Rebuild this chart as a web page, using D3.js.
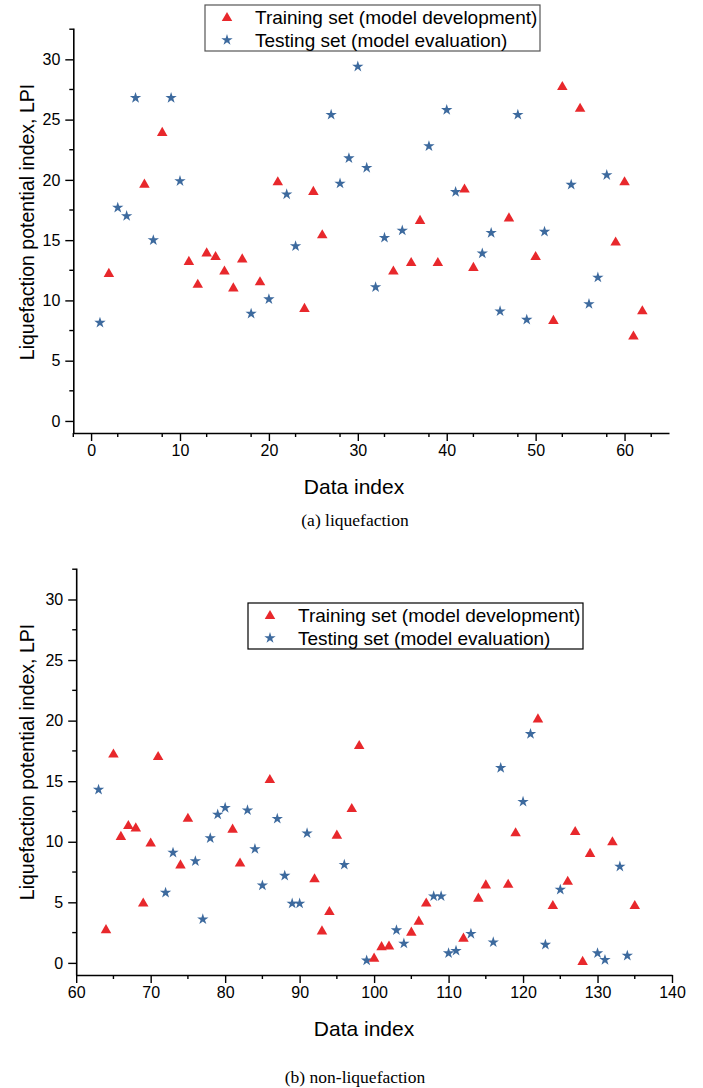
<!DOCTYPE html>
<html>
<head>
<meta charset="utf-8">
<script src="https://cdn.jsdelivr.net/npm/d3@7"></script>
<style>
  body { margin: 0; background: #fff; }
  svg { display: block; }
  .tick text { font-family: "Liberation Sans", Arial, sans-serif; }
</style>
</head>
<body>
<script>
// (a) liquefaction: data index and LPI
var liqTrainIdx = [2, 6, 8, 11, 12, 13, 14, 15, 16, 17, 19, 21, 24, 25, 26, 34, 36, 37, 39, 42, 43, 47, 50, 52, 53, 55, 59, 60, 61, 62];
var liqTrainLpi = [12.2, 19.6, 23.9, 13.2, 11.3, 13.9, 13.6, 12.4, 11.0, 13.4, 11.5, 19.8, 9.3, 19.0, 15.4, 12.4, 13.1, 16.6, 13.1, 19.2, 12.7, 16.8, 13.6, 8.3, 27.7, 25.9, 14.8, 19.8, 7.0, 9.1];
var liqTestIdx = [1, 3, 4, 5, 7, 9, 10, 18, 20, 22, 23, 27, 28, 29, 30, 31, 32, 33, 35, 38, 40, 41, 44, 45, 46, 48, 49, 51, 54, 56, 57, 58];
var liqTestLpi = [8.15, 17.7, 17.0, 26.8, 15.0, 26.8, 19.9, 8.9, 10.1, 18.8, 14.5, 25.4, 19.7, 21.8, 29.4, 21.0, 11.1, 15.2, 15.8, 22.8, 25.8, 19.0, 13.9, 15.6, 9.1, 25.4, 8.4, 15.7, 19.6, 9.7, 11.9, 20.4];

// (b) non-liquefaction
var nonTrainIdx = [64, 65, 66, 67, 68, 69, 70, 71, 74, 75, 81, 82, 86, 92, 93, 94, 95, 97, 98, 100, 101, 102, 105, 106, 107, 112, 114, 115, 118, 119, 122, 124, 126, 127, 128, 129, 132, 135];
var nonTrainLpi = [2.7, 17.2, 10.4, 11.3, 11.1, 4.9, 9.85, 17.0, 8.05, 11.9, 11.0, 8.2, 15.1, 6.9, 2.6, 4.2, 10.5, 12.7, 17.9, 0.35, 1.3, 1.35, 2.5, 3.4, 4.9, 2.0, 5.3, 6.4, 6.45, 10.7, 20.1, 4.7, 6.7, 10.8, 0.08, 9.0, 9.96, 4.7];
var nonTestIdx = [63, 72, 73, 76, 77, 78, 79, 80, 83, 84, 85, 87, 88, 89, 90, 91, 96, 99, 103, 104, 108, 109, 110, 111, 113, 116, 117, 120, 121, 123, 125, 130, 131, 133, 134];
var nonTestLpi = [14.3, 5.8, 9.1, 8.4, 3.6, 10.3, 12.25, 12.8, 12.6, 9.4, 6.4, 11.9, 7.2, 4.9, 4.9, 10.7, 8.1, 0.2, 2.7, 1.6, 5.5, 5.5, 0.8, 1.0, 2.4, 1.7, 16.1, 13.3, 18.9, 1.5, 6.05, 0.8, 0.25, 7.95, 0.6];

var legendLabels = ["Training set (model development)", "Testing set (model evaluation)"];
var yTicks = [0, 5, 10, 15, 20, 25, 30];
var liqXTicks = [0, 10, 20, 30, 40, 50, 60];
var nonXTicks = [60, 70, 80, 90, 100, 110, 120, 130, 140];

var RED = "#e8282c", BLUE = "#3d6a9e";
var SANS = "'Liberation Sans', Arial, sans-serif";
var SERIF = "'Liberation Serif', 'Times New Roman', serif";

var svg = d3.select("body").append("svg")
    .attr("width", 703)
    .attr("height", 1088);

var triangle = d3.symbol().type(d3.symbolTriangle).size(48);
var star = d3.symbol().type(d3.symbolStar).size(40);

function zip(xs, ys) {
    return xs.map(function (x, i) { return { x: x, y: ys[i] }; });
}

function drawPanel(p) {
    var x = d3.scaleLinear().domain(p.xDomain).range([p.left, p.right]);
    var y = d3.scaleLinear().domain([-1, 32.6]).range([p.bottom, p.top]);
    var g = svg.append("g");

    // minor ticks
    var xMinor = d3.range(p.xDomain[0], p.xDomain[1] + 0.01, 5).filter(function (v) { return p.xTicks.indexOf(v) < 0; });
    var yMinor = d3.range(0, 32.6, 2.5).filter(function (v) { return yTicks.indexOf(v) < 0; });
    g.append("g").selectAll("line").data(xMinor).enter().append("line")
        .attr("x1", function (d) { return x(d); }).attr("x2", function (d) { return x(d); })
        .attr("y1", p.bottom).attr("y2", p.bottom + 4)
        .attr("stroke", "#000").attr("stroke-width", 1.4);
    g.append("g").selectAll("line").data(yMinor).enter().append("line")
        .attr("y1", function (d) { return y(d); }).attr("y2", function (d) { return y(d); })
        .attr("x1", p.left).attr("x2", p.left - 4)
        .attr("stroke", "#000").attr("stroke-width", 1.4);

    var xAxis = g.append("g")
        .attr("transform", "translate(0," + p.bottom + ")")
        .call(d3.axisBottom(x).tickValues(p.xTicks).tickSize(8).tickSizeOuter(0).tickPadding(4));
    var yAxis = g.append("g")
        .attr("transform", "translate(" + p.left + ",0)")
        .call(d3.axisLeft(y).tickValues(yTicks).tickSize(8).tickSizeOuter(0).tickPadding(5));
    [xAxis, yAxis].forEach(function (a) {
        a.select(".domain").attr("stroke-width", 1.6);
        a.selectAll(".tick line").attr("stroke-width", 1.4);
        a.selectAll(".tick text").attr("font-size", 16).attr("fill", "#000");
    });

    // points
    g.append("g").selectAll("path").data(zip(p.testIdx, p.testLpi)).enter().append("path")
        .attr("d", star)
        .attr("transform", function (d) { return "translate(" + x(d.x) + "," + y(d.y) + ")"; })
        .attr("fill", BLUE);
    g.append("g").selectAll("path").data(zip(p.trainIdx, p.trainLpi)).enter().append("path")
        .attr("d", triangle)
        .attr("transform", function (d) { return "translate(" + x(d.x) + "," + y(d.y) + ")"; })
        .attr("fill", RED);

    // axis titles
    g.append("text")
        .attr("x", p.xTitleX)
        .attr("y", p.bottom + 61)
        .attr("text-anchor", "middle")
        .attr("font-family", SANS).attr("font-size", 21)
        .text("Data index");
    g.append("text")
        .attr("transform", "translate(34," + p.yTitleY + ") rotate(-90)")
        .attr("text-anchor", "middle")
        .attr("font-family", SANS).attr("font-size", 19.5)
        .text("Liquefaction potential index, LPI");
    g.append("text")
        .attr("x", 355)
        .attr("y", p.captionY)
        .attr("text-anchor", "middle")
        .attr("font-family", SERIF).attr("font-size", 17.5)
        .text(p.caption);

    // legend
    var lg = g.append("g").attr("transform", "translate(" + p.legX + "," + p.legY + ")");
    lg.append("rect")
        .attr("x", 0).attr("y", 0).attr("width", 335).attr("height", 46)
        .attr("fill", "#fff").attr("stroke", p.legStroke).attr("stroke-width", 1.2);
    lg.append("path").attr("d", triangle).attr("transform", "translate(22,13)").attr("fill", RED);
    lg.append("path").attr("d", star).attr("transform", "translate(22,35)").attr("fill", BLUE);
    lg.selectAll("text.leg").data(legendLabels).enter().append("text")
        .attr("class", "leg")
        .attr("x", 50)
        .attr("y", function (d, i) { return 19 + i * 23; })
        .attr("font-family", SANS).attr("font-size", 19)
        .text(function (d) { return d; });
}

drawPanel({
    xDomain: [-2, 65], xTicks: liqXTicks,
    left: 73.3, right: 669, top: 28, bottom: 433,
    trainIdx: liqTrainIdx, trainLpi: liqTrainLpi,
    testIdx: liqTestIdx, testLpi: liqTestLpi,
    xTitleX: 354, yTitleY: 222, caption: "(a) liquefaction", captionY: 526,
    legX: 205, legY: 5, legStroke: "#555"
});

drawPanel({
    xDomain: [60, 140], xTicks: nonXTicks,
    left: 76.2, right: 672, top: 568, bottom: 975,
    trainIdx: nonTrainIdx, trainLpi: nonTrainLpi,
    testIdx: nonTestIdx, testLpi: nonTestLpi,
    xTitleX: 364, yTitleY: 762, caption: "(b) non-liquefaction", captionY: 1083,
    legX: 248, legY: 603, legStroke: "#000"
});
</script>
</body>
</html>
